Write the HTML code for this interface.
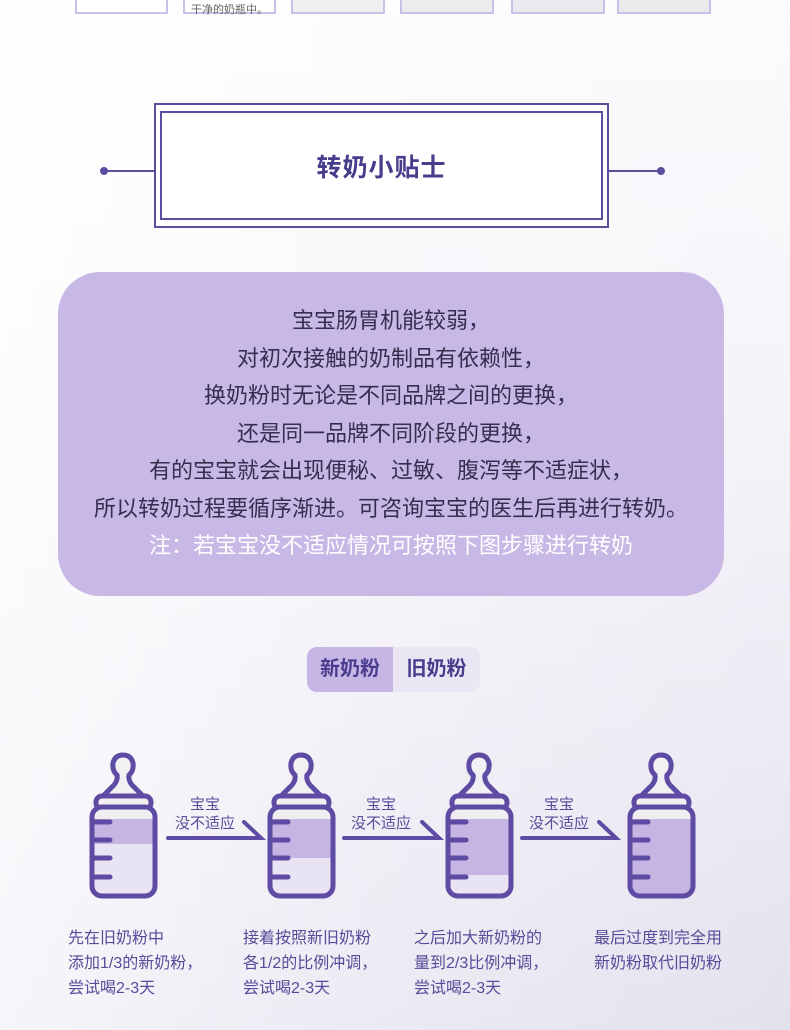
<!DOCTYPE html>
<html><head><meta charset="utf-8"><style>
*{margin:0;padding:0;box-sizing:border-box}
body{width:790px;height:1030px;overflow:hidden;position:relative;font-family:"Liberation Sans","Noto Sans CJK SC",sans-serif;
background:linear-gradient(100deg,rgba(255,255,255,.85) 0%,rgba(255,255,255,.3) 55%,rgba(255,255,255,0) 100%),linear-gradient(180deg,#fbfbfd 0%,#f2f1f7 45%,#e4e1ee 100%);}
.card{position:absolute;top:-10px;height:24px;border:2px solid #cbbfe8;background:#fff}
.title{position:absolute;left:154px;top:103px;width:455px;height:125px;border:2px solid #5a4f9e;background:#fff}
.title .in{position:absolute;left:4px;top:6px;right:4px;bottom:6px;border:2px solid #5a4f9e;display:flex;align-items:center;justify-content:center;font-size:25px;font-weight:bold;color:#463d8c;letter-spacing:1px}
.line{position:absolute;top:170px;height:2px;background:#5a4f9e}
.dot{position:absolute;top:167px;width:8px;height:8px;border-radius:50%;background:#5a4f9e}
.box{position:absolute;left:58px;top:272px;width:666px;height:324px;border-radius:42px;background:#c8b8e6;text-align:center;padding-top:30px;font-size:22px;line-height:37.5px;color:#352e4e}
.box .w{color:#fff}
.tabs{position:absolute;left:307px;top:647px;width:173px;height:45px;border-radius:10px;background:#ebe6f4;overflow:hidden;font-size:20px;font-weight:bold;color:#4a3d8e}
.tabs .a{position:absolute;left:0;top:0;width:86px;height:45px;background:#c7b5e6;text-align:center;line-height:45px}
.tabs .b{position:absolute;left:86px;top:0;width:87px;height:45px;text-align:center;line-height:45px}
.cap{position:absolute;top:926px;font-size:16px;line-height:25px;color:#5a4a9a}
.lab{position:absolute;font-size:15px;line-height:19px;color:#5a4a9a;text-align:center}
</style></head><body>
<div class="card" style="left:75px;width:93px"></div>
<div class="card" style="left:183px;width:93px"><span style="position:absolute;left:6px;top:9px;font-size:11px;color:#666">干净的奶瓶中。</span></div>
<div class="card" style="left:291px;width:94px;background:#f0f0f2"></div>
<div class="card" style="left:400px;width:94px;background:#ececef"></div>
<div class="card" style="left:511px;width:94px;background:#eaeaee"></div>
<div class="card" style="left:617px;width:94px;background:#ebebee"></div>

<div class="line" style="left:104px;width:52px"></div><div class="dot" style="left:100px"></div>
<div class="line" style="left:608px;width:52px"></div><div class="dot" style="left:657px"></div>
<div class="title"><div class="in">转奶小贴士</div></div>

<div class="box">宝宝肠胃机能较弱，<br>对初次接触的奶制品有依赖性，<br>换奶粉时无论是不同品牌之间的更换，<br>还是同一品牌不同阶段的更换，<br>有的宝宝就会出现便秘、过敏、腹泻等不适症状，<br>所以转奶过程要循序渐进。可咨询宝宝的医生后再进行转奶。<br><span class="w">注：若宝宝没不适应情况可按照下图步骤进行转奶</span></div>

<div class="tabs"><div class="a">新奶粉</div><div class="b">旧奶粉</div></div>

<svg width="790" height="1030" style="position:absolute;left:0;top:0">
<defs>
<g id="bt" fill="none" stroke="#5e4ba3" stroke-width="5" stroke-linejoin="round" stroke-linecap="round">
<path d="M12 47 L24 35 Q28 30 27 25 Q22 21 23 13 Q25 5 33 5 Q41 5 43 13 Q44 21 39 25 Q38 30 42 35 L54 47 Z" fill="#f1f1f3"/>
<rect x="6" y="46" width="55" height="13" rx="6" fill="#f1f1f3"/>
</g>
</defs>
<g transform="translate(90,750)"><use href="#bt"/></g>
<g transform="translate(268,750)"><use href="#bt"/></g>
<g transform="translate(446,750)"><use href="#bt"/></g>
<g transform="translate(628,750)"><use href="#bt"/></g>
<g stroke="#5e4ba3" stroke-width="5" stroke-linecap="round">
<clipPath id="c1"><rect x="92" y="808" width="63" height="87" rx="9"/></clipPath>
<clipPath id="c2"><rect x="270" y="808" width="63" height="87" rx="9"/></clipPath>
<clipPath id="c3"><rect x="448" y="808" width="63" height="87" rx="9"/></clipPath>
<clipPath id="c4"><rect x="630" y="808" width="63" height="87" rx="9"/></clipPath>
<g stroke="none">
<g clip-path="url(#c1)"><rect x="90" y="805" width="70" height="95" fill="#e9e4f3"/><rect x="90" y="805" width="70" height="14" fill="#efeff1"/><rect x="90" y="819" width="70" height="25" fill="#c6b4e3"/></g>
<g clip-path="url(#c2)"><rect x="268" y="805" width="70" height="95" fill="#e9e4f3"/><rect x="268" y="805" width="70" height="14" fill="#efeff1"/><rect x="268" y="819" width="70" height="39" fill="#c6b4e3"/></g>
<g clip-path="url(#c3)"><rect x="446" y="805" width="70" height="95" fill="#e9e4f3"/><rect x="446" y="805" width="70" height="14" fill="#efeff1"/><rect x="446" y="819" width="70" height="56" fill="#c6b4e3"/></g>
<g clip-path="url(#c4)"><rect x="628" y="805" width="70" height="95" fill="#c6b4e3"/><rect x="628" y="805" width="70" height="14" fill="#efeff1"/></g>
</g>
<g fill="none">
<rect x="92" y="807" width="63" height="89" rx="10"/>
<rect x="270" y="807" width="63" height="89" rx="10"/>
<rect x="448" y="807" width="63" height="89" rx="10"/>
<rect x="630" y="807" width="63" height="89" rx="10"/>
</g>
<g>
<path d="M94 822h16M94 840h16M94 858h16M94 877h16"/>
<path d="M272 822h16M272 840h16M272 858h16M272 877h16"/>
<path d="M450 822h16M450 840h16M450 858h16M450 877h16"/>
<path d="M632 822h16M632 840h16M632 858h16M632 877h16"/>
</g>
<g stroke-width="4" fill="none" stroke-linejoin="miter">
<path d="M168 838H261L244 822"/>
<path d="M344 838H439L422 822"/>
<path d="M522 838H616L599 822"/>
</g>
</g>
</svg>
<div class="lab" style="left:170px;top:795px;width:70px">宝宝<br>没不适应</div>
<div class="lab" style="left:346px;top:795px;width:70px">宝宝<br>没不适应</div>
<div class="lab" style="left:524px;top:795px;width:70px">宝宝<br>没不适应</div>

<div class="cap" style="left:68px">先在旧奶粉中<br>添加1/3的新奶粉，<br>尝试喝2-3天</div>
<div class="cap" style="left:243px">接着按照新旧奶粉<br>各1/2的比例冲调，<br>尝试喝2-3天</div>
<div class="cap" style="left:414px">之后加大新奶粉的<br>量到2/3比例冲调，<br>尝试喝2-3天</div>
<div class="cap" style="left:594px">最后过度到完全用<br>新奶粉取代旧奶粉</div>
</body></html>
